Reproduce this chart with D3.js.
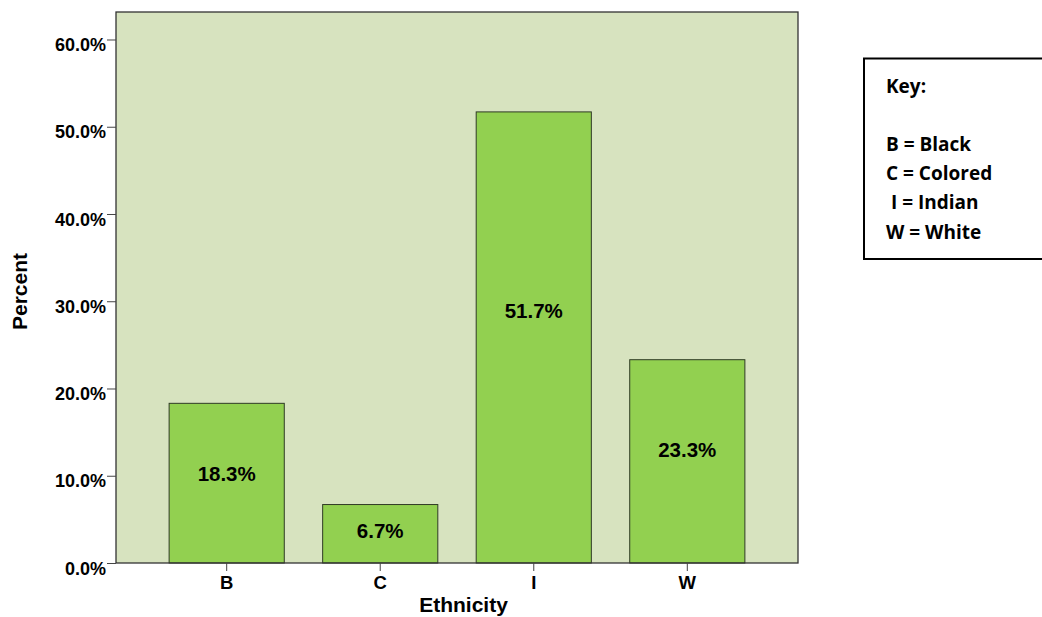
<!DOCTYPE html>
<html>
<head>
<meta charset="utf-8">
<script src="https://cdn.jsdelivr.net/npm/d3@7"></script>
<style>
  html, body { margin: 0; padding: 0; background: #fff; }
  svg { display: block; }
  .axis text { font-family: Arial, "Liberation Sans", sans-serif; font-weight: bold; fill: #000; }
  .axis path { display: none; }
  .axis line { stroke: #444; stroke-width: 1; }
</style>
</head>
<body>
<svg id="chart" width="1042" height="617"></svg>
<script>
// Ethnicity distribution (percent of respondents)
const categories = ["B", "C", "I", "W"];
const percents = [18.3, 6.7, 51.7, 23.3];
const yTicks = [0, 10, 20, 30, 40, 50, 60];
const keyLines = ["Key:", "", "B = Black", "C = Colored", " I = Indian", "W = White"];

const plot = { left: 116, right: 798, top: 12, bottom: 563 };

const svg = d3.select("#chart");

const x = d3.scaleBand()
  .domain(categories)
  .range([plot.left, plot.right])
  .paddingInner(0.25)
  .paddingOuter(0.346);

const y = d3.scaleLinear()
  .domain([0, 63.15])
  .range([plot.bottom, plot.top]);

// plot background
svg.append("rect")
  .attr("x", plot.left).attr("y", plot.top)
  .attr("width", plot.right - plot.left)
  .attr("height", plot.bottom - plot.top)
  .attr("fill", "#d7e3bf");

// bars
const data = categories.map((c, i) => ({ cat: c, val: percents[i] }));
svg.append("g").selectAll("rect")
  .data(data)
  .join("rect")
  .attr("x", d => x(d.cat))
  .attr("y", d => y(d.val))
  .attr("width", x.bandwidth())
  .attr("height", d => y(0) - y(d.val))
  .attr("fill", "#92d050")
  .attr("stroke", "#2f3a25")
  .attr("stroke-width", 1);

// value labels inside bars
svg.append("g").selectAll("text")
  .data(data)
  .join("text")
  .attr("x", d => x(d.cat) + x.bandwidth() / 2)
  .attr("y", d => y(d.val) + 0.44 * (y(0) - y(d.val)))
  .attr("dy", "0.36em")
  .attr("text-anchor", "middle")
  .attr("font-family", "Arial, 'Liberation Sans', sans-serif")
  .attr("font-weight", "bold")
  .attr("font-size", 20.5)
  .attr("fill", "#000")
  .text(d => d.val.toFixed(1) + "%");

// plot frame
svg.append("rect")
  .attr("x", plot.left).attr("y", plot.top)
  .attr("width", plot.right - plot.left)
  .attr("height", plot.bottom - plot.top)
  .attr("fill", "none")
  .attr("stroke", "#333")
  .attr("stroke-width", 1.3);

// y axis
const yAxis = svg.append("g")
  .attr("class", "axis")
  .attr("transform", `translate(${plot.left},0)`)
  .call(d3.axisLeft(y).tickValues(yTicks).tickSize(9).tickPadding(1)
    .tickFormat(d => d.toFixed(1) + "%"));
yAxis.selectAll("text").attr("font-size", 18).attr("dy", "0.62em");

// x axis
const xAxis = svg.append("g")
  .attr("class", "axis")
  .attr("transform", `translate(0,${plot.bottom})`)
  .call(d3.axisBottom(x).tickSize(8).tickPadding(5));
xAxis.selectAll("text").attr("font-size", 18.5);

// axis titles
svg.append("text")
  .attr("x", 463.5).attr("y", 611.5)
  .attr("text-anchor", "middle")
  .attr("font-family", "Arial, 'Liberation Sans', sans-serif")
  .attr("font-weight", "bold")
  .attr("font-size", 21)
  .text("Ethnicity");

svg.append("text")
  .attr("transform", "translate(26.5,291.5) rotate(-90)")
  .attr("text-anchor", "middle")
  .attr("font-family", "Arial, 'Liberation Sans', sans-serif")
  .attr("font-weight", "bold")
  .attr("font-size", 21)
  .text("Percent");

// key box
svg.append("rect")
  .attr("x", 864).attr("y", 58.5)
  .attr("width", 190).attr("height", 200.5)
  .attr("fill", "#fff")
  .attr("stroke", "#000")
  .attr("stroke-width", 2);

svg.append("g").selectAll("text")
  .data(keyLines)
  .join("text")
  .attr("x", 886)
  .attr("y", (d, i) => i === 0 ? 93.3 : 151 + (i - 2) * 29.2)
  .attr("font-family", "'Open Sans', Lato, sans-serif")
  .attr("font-weight", "bold")
  .attr("font-size", 19)
  .attr("fill", "#000")
  .style("white-space", "pre")
  .text(d => d);
</script>
</body>
</html>
